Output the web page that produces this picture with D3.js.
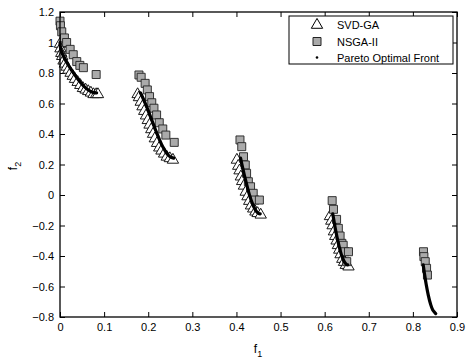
<!DOCTYPE html>
<html><head><meta charset="utf-8">
<script src="https://cdn.jsdelivr.net/npm/d3@7"></script>
<style>
body{margin:0;background:#fff;}
svg{display:block;font-family:"Liberation Sans",Arial,Helvetica,sans-serif;}
</style></head>
<body><svg id="c" width="466" height="358"></svg>
<script>
// ---- data ----
const xTicks = [0,0.1,0.2,0.3,0.4,0.5,0.6,0.7,0.8,0.9];
const yTicks = [-0.8,-0.6,-0.4,-0.2,0,0.2,0.4,0.6,0.8,1,1.2];
const legendLabels = ["SVD-GA","NSGA-II","Pareto Optimal Front"];

// SVD-GA (triangles)
const svdF1 = [0.000,0.001,0.003,0.005,0.008,0.011,0.015,0.019,0.024,0.029,0.034,0.040,0.046,0.052,0.058,0.064,0.070,0.076,0.082,0.086,
  0.176,0.179,0.183,0.187,0.191,0.195,0.199,0.203,0.207,0.211,0.215,0.220,0.225,0.230,0.236,0.242,0.249,0.256,
  0.401,0.404,0.407,0.410,0.413,0.417,0.421,0.425,0.429,0.433,0.438,0.443,0.448,0.455,
  0.612,0.615,0.618,0.621,0.624,0.627,0.630,0.633,0.636,0.640,0.644,0.648,0.654];
const svdF2 = [0.99,0.96,0.93,0.91,0.88,0.86,0.84,0.82,0.80,0.78,0.76,0.74,0.72,0.70,0.69,0.68,0.67,0.66,0.66,0.66,
  0.66,0.64,0.61,0.58,0.55,0.52,0.49,0.46,0.43,0.40,0.37,0.34,0.31,0.29,0.27,0.25,0.24,0.23,
  0.23,0.19,0.16,0.12,0.09,0.06,0.02,-0.01,-0.04,-0.07,-0.09,-0.11,-0.12,-0.13,
  -0.14,-0.17,-0.20,-0.24,-0.27,-0.30,-0.33,-0.36,-0.39,-0.42,-0.44,-0.46,-0.47];

// NSGA-II (squares)
const nsgaF1 = [0.000,0.001,0.004,0.010,0.015,0.023,0.030,0.038,0.045,0.053,0.082,
  0.179,0.184,0.193,0.198,0.203,0.208,0.213,0.219,0.225,0.233,0.240,0.259,
  0.408,0.412,0.416,0.420,0.423,0.427,0.432,0.438,0.442,0.452,
  0.617,0.620,0.627,0.631,0.635,0.639,0.642,0.646,0.650,0.654,
  0.824,0.825,0.828,0.831,0.833];
const nsgaF2 = [1.14,1.11,1.07,1.03,1.00,0.955,0.92,0.875,0.85,0.835,0.79,
  0.787,0.772,0.732,0.689,0.645,0.605,0.569,0.525,0.474,0.433,0.393,0.345,
  0.361,0.317,0.251,0.197,0.142,0.087,0.054,0.011,-0.033,-0.033,
  -0.037,-0.094,-0.160,-0.219,-0.269,-0.317,-0.33,-0.372,-0.437,-0.372,
  -0.372,-0.404,-0.437,-0.481,-0.525];

// Pareto optimal front, one list per disconnected piece
const frontF1 = [
  [0,0.001,0.002,0.004,0.007,0.01,0.015,0.02,0.025,0.03,0.035,0.04,0.045,0.05,0.055,0.06,0.065,0.07,0.075,0.08,0.083],
  [0.1822,0.185,0.19,0.195,0.2,0.205,0.21,0.215,0.22,0.225,0.23,0.235,0.24,0.245,0.25,0.2578],
  [0.4093,0.415,0.42,0.425,0.43,0.435,0.44,0.445,0.45,0.4539],
  [0.6184,0.622,0.625,0.63,0.635,0.64,0.645,0.65,0.6525],
  [0.8233,0.826,0.83,0.835,0.84,0.845,0.85,0.8518]];
const frontF2 = [
  [1,0.968,0.955,0.936,0.915,0.897,0.871,0.847,0.824,0.803,0.782,0.762,0.744,0.726,0.711,0.698,0.687,0.679,0.673,0.670,0.670],
  [0.670,0.654,0.623,0.589,0.553,0.515,0.477,0.439,0.402,0.367,0.334,0.306,0.282,0.263,0.250,0.242],
  [0.242,0.167,0.105,0.048,-0.004,-0.047,-0.082,-0.107,-0.121,-0.124],
  [-0.124,-0.185,-0.233,-0.303,-0.363,-0.409,-0.440,-0.456,-0.458],
  [-0.458,-0.511,-0.583,-0.658,-0.715,-0.754,-0.772,-0.778]];

// ---- chart ----
const svg = d3.select("#c");
const L=60,R=457,T=12,B=317;
const x = d3.scaleLinear().domain([0,0.9]).range([L,R]);
const y = d3.scaleLinear().domain([-0.8,1.2]).range([B,T]);
const fmt = d => String(+d.toFixed(1)).replace("-","\u2212");

function styleAxis(g){
  g.selectAll(".domain").remove();
  g.selectAll("line").attr("stroke","#000").attr("stroke-width",1);
  g.selectAll("text").attr("font-size","11px").attr("fill","#000").attr("font-family","Liberation Sans, Arial, sans-serif");
}
svg.append("g").attr("transform",`translate(0,${B})`)
  .call(d3.axisBottom(x).tickValues(xTicks).tickFormat(fmt).tickSizeInner(-5).tickSizeOuter(0).tickPadding(6)).call(styleAxis);
svg.append("g").attr("transform",`translate(0,${T})`)
  .call(d3.axisTop(x).tickValues(xTicks).tickFormat("").tickSizeInner(-5).tickSizeOuter(0)).call(styleAxis);
svg.append("g").attr("transform",`translate(${L},0)`)
  .call(d3.axisLeft(y).tickValues(yTicks).tickFormat(fmt).tickSizeInner(-5).tickSizeOuter(0).tickPadding(6)).call(styleAxis);
svg.append("g").attr("transform",`translate(${R},0)`)
  .call(d3.axisRight(y).tickValues(yTicks).tickFormat("").tickSizeInner(-5).tickSizeOuter(0)).call(styleAxis);

const plot = svg.append("g");
const tri = d3.symbol().type(d3.symbolTriangle).size(56);
const sq = d3.symbol().type(d3.symbolSquare).size(64);

plot.selectAll("path.svd").data(svdF1.map((v,i)=>[v,svdF2[i]])).join("path")
  .attr("class","svd").attr("d",tri)
  .attr("transform",d=>`translate(${x(d[0])},${y(d[1])})`)
  .attr("fill","#fff").attr("stroke","#000").attr("stroke-width",0.9);
plot.selectAll("path.nsga").data(nsgaF1.map((v,i)=>[v,nsgaF2[i]])).join("path")
  .attr("class","nsga").attr("d",sq)
  .attr("transform",d=>`translate(${x(d[0])},${y(d[1])})`)
  .attr("fill","#aaaaaa").attr("stroke","#222").attr("stroke-width",0.9);
const line = d3.line().x(d=>x(d[0])).y(d=>y(d[1])).curve(d3.curveCatmullRom);
plot.selectAll("path.front").data(frontF1.map((a,k)=>a.map((v,i)=>[v,frontF2[k][i]]))).join("path")
  .attr("class","front").attr("d",line).attr("fill","none").attr("stroke","#000")
  .attr("stroke-width",3.2).attr("stroke-linecap","round");

// frame
svg.append("rect").attr("x",L).attr("y",T).attr("width",R-L).attr("height",B-T)
  .attr("fill","none").attr("stroke","#000").attr("stroke-width",1.3);

// axis labels
const xl = svg.append("text").attr("x",258).attr("y",353).attr("text-anchor","middle").attr("font-size","12px");
xl.append("tspan").text("f");
xl.append("tspan").attr("font-size","9px").attr("dy",4).text("1");
const yl = svg.append("text").attr("transform","translate(17,166) rotate(-90)").attr("text-anchor","middle").attr("font-size","12px");
yl.append("tspan").text("f");
yl.append("tspan").attr("font-size","9px").attr("dy",4).text("2");

// legend
const lg = svg.append("g");
lg.append("rect").attr("x",289).attr("y",16).attr("width",164).attr("height",48)
  .attr("fill","#fff").attr("stroke","#000").attr("stroke-width",1);
const rows=[25,41.5,57.5];
lg.append("path").attr("d",tri).attr("transform",`translate(317,${rows[0]})`).attr("fill","#fff").attr("stroke","#000");
lg.append("path").attr("d",sq).attr("transform",`translate(317,${rows[1]})`).attr("fill","#aaaaaa").attr("stroke","#222");
lg.append("circle").attr("cx",317).attr("cy",rows[2]).attr("r",1.3).attr("fill","#000");
lg.selectAll("text.l").data(legendLabels).join("text").attr("class","l")
  .attr("x",337).attr("y",(d,i)=>rows[i]+4).attr("font-size","11px").text(d=>d);
</script></body></html>
